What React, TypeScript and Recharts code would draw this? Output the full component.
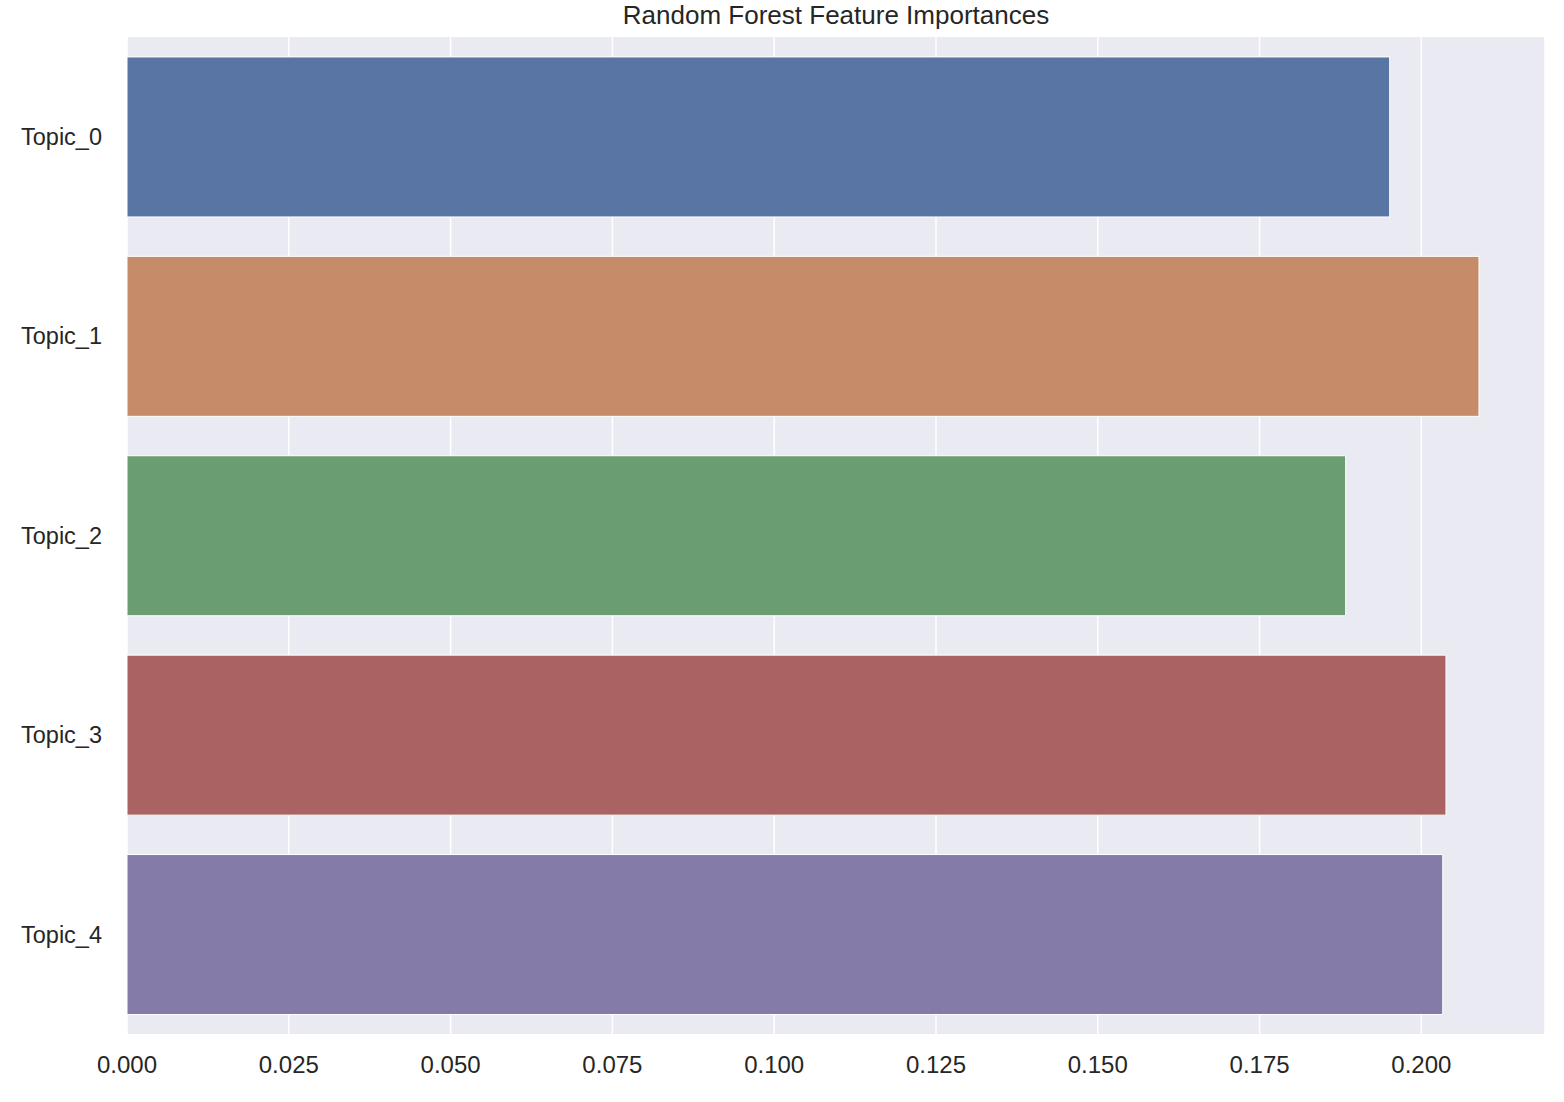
import React from 'react';
import { BarChart, Bar, XAxis, YAxis, CartesianGrid, Cell } from 'recharts';

const topics = ['Topic_0', 'Topic_1', 'Topic_2', 'Topic_3', 'Topic_4'];
const importances = [0.1951, 0.2089, 0.1883, 0.2038, 0.2033];
const barColors = ['#5975a4', '#c68b69', '#6a9e72', '#aa6262', '#847ba8'];
const xTicks = [0, 0.025, 0.05, 0.075, 0.1, 0.125, 0.15, 0.175, 0.2];

const data = topics.map((name, i) => ({ name, value: importances[i] }));

const font = '"Liberation Sans", Arial, sans-serif';
const textColor = '#262626';

const App: React.FC = () => {
    return (
        <div style={{ position: 'absolute', left: 0, top: 0, width: 1564, height: 1102, background: '#fff', fontFamily: font }}>
            <div
                style={{
                    position: 'absolute',
                    left: 127,
                    width: 1418,
                    top: 0,
                    textAlign: 'center',
                    fontSize: 26,
                    lineHeight: '30px',
                    color: textColor,
                }}
            >
                Random Forest Feature Importances
            </div>
            <BarChart
                width={1564}
                height={1102}
                data={data}
                layout="vertical"
                margin={{ top: 37, right: 19, left: 0, bottom: 0 }}
                barCategoryGap="10%"
            >
                <CartesianGrid horizontal={false} stroke="#ffffff" strokeWidth={1.5} fill="#eaeaf2" fillOpacity={1} />
                <XAxis
                    type="number"
                    domain={[0, 0.2191]}
                    ticks={xTicks}
                    tickFormatter={(v: number) => v.toFixed(3)}
                    axisLine={false}
                    tickLine={false}
                    tickSize={0}
                    tickMargin={22}
                    height={68}
                    tick={{ fontSize: 24, fill: textColor, fontFamily: font }}
                    allowDataOverflow
                />
                <YAxis
                    type="category"
                    dataKey="name"
                    axisLine={false}
                    tickLine={false}
                    tickSize={0}
                    tickMargin={25}
                    width={127}
                    tick={{ fontSize: 23.5, fill: textColor, fontFamily: font }}
                />
                <Bar dataKey="value" isAnimationActive={false} stroke="#ffffff" strokeWidth={1}>
                    {data.map((entry, index) => (
                        <Cell key={`cell-${index}`} fill={barColors[index]} />
                    ))}
                </Bar>
            </BarChart>
        </div>
    );
};

export default App;
